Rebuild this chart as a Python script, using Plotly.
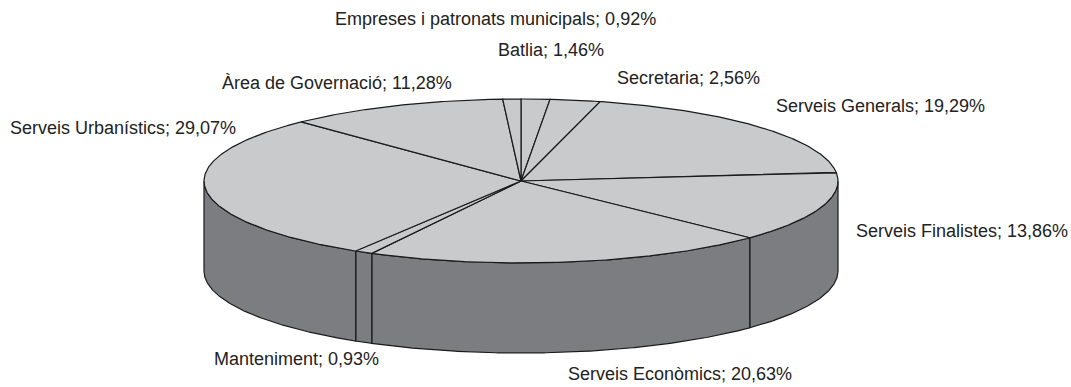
import numpy as np
import plotly.graph_objects as go

# Slice data, clockwise from 12 o'clock
categories = [
    "Batlia",
    "Secretaria",
    "Serveis Generals",
    "Serveis Finalistes",
    "Serveis Econòmics",
    "Manteniment",
    "Serveis Urbanístics",
    "Àrea de Governació",
    "Empreses i patronats municipals",
]
shares = [1.46, 2.56, 19.29, 13.86, 20.63, 0.93, 29.07, 11.28, 0.92]
share_text = ["1,46%", "2,56%", "19,29%", "13,86%", "20,63%", "0,93%", "29,07%", "11,28%", "0,92%"]

# Label anchor points (page pixels)
label_pos = [
    (551, 50), (688, 78), (880, 106), (962, 231), (680, 374),
    (296, 359), (123, 128), (337, 83), (495, 19),
]

# Pie geometry (page pixels)
CX, CY = 521, 181
RX, RY = 317, 82
DEPTH = 90
TOP_COLOR = "#c9cacc"
SIDE_COLOR = "#7c7d81"
EDGE = "#1a1a1a"


def rim(theta_deg, drop=0.0):
    t = np.radians(theta_deg)
    return CX + RX * np.sin(t), CY - RY * np.cos(t) + drop


fig = go.Figure()

total = sum(shares)
bounds = np.concatenate([[0], np.cumsum(shares) / total * 360.0])

# Outer walls: only the front half (90..270 deg) faces the viewer
for a, b in zip(bounds[:-1], bounds[1:]):
    lo, hi = max(a, 90.0), min(b, 270.0)
    if hi <= lo:
        continue
    th = np.linspace(lo, hi, max(int((hi - lo) * 3), 2))
    xt, yt = rim(th)
    xb, yb = rim(th[::-1], DEPTH)
    xs = np.concatenate([xt, xb, xt[:1]])
    ys = np.concatenate([yt, yb, yt[:1]])
    fig.add_trace(go.Scatter(
        x=xs, y=ys, mode="lines", fill="toself", fillcolor=SIDE_COLOR,
        line=dict(color=EDGE, width=1.2), hoverinfo="skip", showlegend=False,
    ))

# Top face wedges
for a, b in zip(bounds[:-1], bounds[1:]):
    th = np.linspace(a, b, max(int((b - a) * 3), 2))
    xa, ya = rim(th)
    xs = np.concatenate([[CX], xa, [CX]])
    ys = np.concatenate([[CY], ya, [CY]])
    fig.add_trace(go.Scatter(
        x=xs, y=ys, mode="lines", fill="toself", fillcolor=TOP_COLOR,
        line=dict(color=EDGE, width=1.2), hoverinfo="skip", showlegend=False,
    ))

for name, txt, (lx, ly) in zip(categories, share_text, label_pos):
    fig.add_annotation(
        x=lx, y=ly, text=f"{name}; {txt}", showarrow=False,
        xanchor="center", yanchor="middle",
        font=dict(family="Liberation Sans, Arial, sans-serif", size=18, color="#222222"),
    )

fig.update_layout(
    width=1071, height=387,
    margin=dict(l=0, r=0, t=0, b=0),
    paper_bgcolor="white", plot_bgcolor="white",
    xaxis=dict(range=[0, 1071], visible=False, fixedrange=True),
    yaxis=dict(range=[387, 0], visible=False, fixedrange=True),
)

fig.write_html("out.html")
